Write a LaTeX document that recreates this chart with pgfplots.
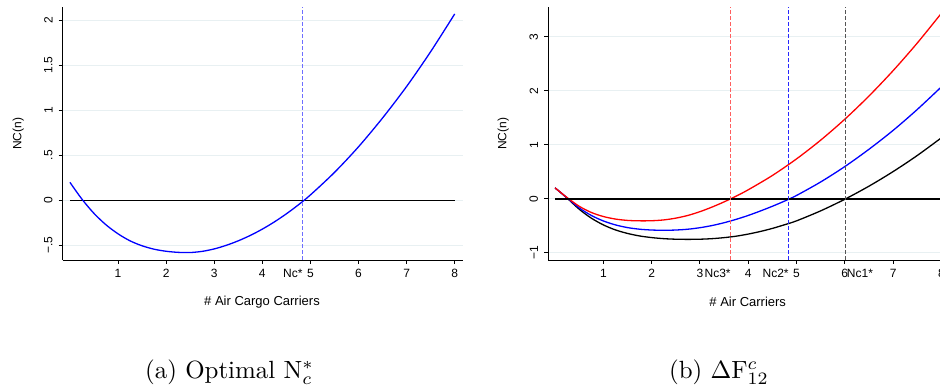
\documentclass[border=0pt]{standalone}
\usepackage{graphicx}
\usepackage{fontspec}
\usepackage{pgfplots}
\usepackage{pgfplotstable}
\pgfplotsset{compat=1.18}
\newfontfamily\arialf{Liberation Sans}
\definecolor{gridc}{RGB}{232,240,242}
\definecolor{dashbL}{RGB}{110,110,255}
\definecolor{dashr}{RGB}{255,95,95}
\definecolor{dashb}{RGB}{40,40,255}
\definecolor{dashk}{RGB}{85,85,85}
\newcommand\tickfont{\arialf\fontsize{12bp}{14bp}\selectfont}
\newcommand\titlefont{\arialf\fontsize{13bp}{15bp}\selectfont}

\pgfplotstableread{
x y
0 0.200
0.25 0.013
0.5 -0.145
0.75 -0.272
1.0 -0.372
1.25 -0.450
1.5 -0.505
1.75 -0.543
2.0 -0.566
2.25 -0.578
2.5 -0.580
2.75 -0.567
3.0 -0.540
3.25 -0.500
3.5 -0.450
3.75 -0.390
4.0 -0.320
4.25 -0.240
4.5 -0.150
4.75 -0.050
5.0 0.060
5.5 0.310
6.0 0.595
6.5 0.915
7.0 1.265
7.5 1.652
8.0 2.071
}\blueL

\pgfplotstableread{
x y
0 0.200
0.25 0.015
0.5 -0.170
0.75 -0.310
1.0 -0.412
1.25 -0.485
1.5 -0.535
1.75 -0.565
2.0 -0.580
2.25 -0.585
2.5 -0.580
2.75 -0.565
3.0 -0.537
3.25 -0.497
3.5 -0.445
3.75 -0.382
4.0 -0.310
4.25 -0.228
4.5 -0.140
4.75 -0.045
5.0 0.060
5.5 0.310
6.0 0.595
6.5 0.915
7.0 1.265
7.5 1.652
8.0 2.071
}\blueR

\pgfplotstableread{
x y
0 0.200
0.25 0.020
0.5 -0.140
0.75 -0.255
1.0 -0.330
1.25 -0.377
1.5 -0.402
1.75 -0.410
2.0 -0.408
2.25 -0.393
2.5 -0.360
2.75 -0.310
3.0 -0.240
3.25 -0.155
3.5 -0.059
3.75 0.048
4.0 0.165
4.5 0.430
5.0 0.737
5.5 1.084
6.0 1.472
6.5 1.901
7.0 2.371
7.5 2.882
8.0 3.434
}\redR

\pgfplotstableread{
x y
0 0.200
0.25 0.010
0.5 -0.195
0.75 -0.360
1.0 -0.485
1.25 -0.578
1.5 -0.643
1.75 -0.690
2.0 -0.720
2.25 -0.740
2.5 -0.750
2.75 -0.753
3.0 -0.750
3.25 -0.740
3.5 -0.721
3.75 -0.694
4.0 -0.655
4.25 -0.607
4.5 -0.550
4.75 -0.483
5.0 -0.410
5.5 -0.225
6.0 -0.010
6.5 0.232
7.0 0.502
7.5 0.800
8.0 1.128
}\blackR

\pgfplotsset{stata/.style={
  scale only axis, anchor=south west,
  axis x line*=bottom, axis y line*=left,
  axis line style={-, line width=0.9bp, black},
  tick align=outside, major tick length=4bp,
  tick style={line width=0.9bp, black},
  xtick={1,2,3,4,5,6,7,8}, xticklabels={1,2,3,4,5,6,7,8},
  ymajorgrids, major grid style={gridc, line width=0.9bp},
  /pgf/number format/assume math mode=true,
  xticklabel style={font=\tickfont, inner sep=0pt, anchor=north, yshift=-4.6bp},
  yticklabel style={font=\tickfont, inner sep=0pt, rotate=90, anchor=south, yshift=6bp},
  clip mode=individual,
}}

\begin{document}
\begin{tikzpicture}
\useasboundingbox (0,0) rectangle (940bp,389bp);
\clip (0,0) rectangle (940bp,389bp);

% ---------- left panel ----------
\begin{axis}[stata, at={(62.7bp,129bp)}, width=400bp, height=253bp,
  xmin=-0.15, xmax=8.166, ymin=-0.663, ymax=2.148,
  ytick={-0.5,0,0.5,1,1.5,2}, yticklabels={−.5,0,.5,1,1.5,2}]
\addplot[black, line width=1.2bp] coordinates {(0,0) (8,0)};
\addplot[blue, line width=1.3bp, smooth] table {\blueL};
\addplot[dashbL, line width=1.1bp, dash pattern=on 4bp off 2bp] coordinates {(4.84,-0.663) (4.84,2.148)};
\node[font=\tickfont, inner sep=0pt, anchor=north east, yshift=-8.6bp] at (axis cs:4.84,-0.663) {Nc*};
\end{axis}

% ---------- right panel ----------
\begin{axis}[stata, at={(548.3bp,129bp)}, width=401.3bp, height=252.7bp,
  xmin=-0.14, xmax=8.17, ymin=-1.135, ymax=3.544,
  ytick={-1,0,1,2,3}, yticklabels={−1,0,1,2,3}]
\addplot[black, line width=1.3bp, smooth] table {\blackR};
\addplot[blue, line width=1.3bp, smooth] table {\blueR};
\addplot[red, line width=1.3bp, smooth] table {\redR};
\addplot[black, line width=2bp] coordinates {(0,0) (8.3,0)};
\addplot[dashr, line width=1.1bp, dash pattern=on 4bp off 2bp] coordinates {(3.64,-1.135) (3.64,3.544)};
\addplot[dashb, line width=1.1bp, dash pattern=on 4bp off 2bp] coordinates {(4.84,-1.135) (4.84,3.544)};
\addplot[dashk, line width=1.1bp, dash pattern=on 4bp off 2bp] coordinates {(6.02,-1.135) (6.02,3.544)};
\node[font=\tickfont, inner sep=0pt, anchor=north east, yshift=-8.6bp] at (axis cs:3.64,-1.135) {Nc3*};
\node[font=\tickfont, inner sep=0pt, anchor=north east, yshift=-8.6bp] at (axis cs:4.84,-1.135) {Nc2*};
\node[font=\tickfont, inner sep=0pt, anchor=north west, yshift=-8.6bp, xshift=1bp] at (axis cs:6.02,-1.135) {Nc1*};
\end{axis}

% ---------- titles ----------
\node[font=\tickfont, rotate=90] at (18.3bp,255.2bp) {NC(n)};
\node[font=\tickfont, rotate=90] at (503.3bp,255.2bp) {NC(n)};
\node[font=\titlefont] at (262bp,87.3bp) {\# Air Cargo Carriers};
\node[font=\titlefont] at (747.7bp,87bp) {\# Air Carriers};
\node[anchor=base west, inner sep=0pt] at (145bp,10.3bp) {\scalebox{2.5}{(a) Optimal $\mathrm{N}_c^*$}};
\node[anchor=base west, inner sep=0pt] at (669bp,10.3bp) {\scalebox{2.5}{(b) $\Delta\mathrm{F}^c_{12}$}};
\end{tikzpicture}
\end{document}
